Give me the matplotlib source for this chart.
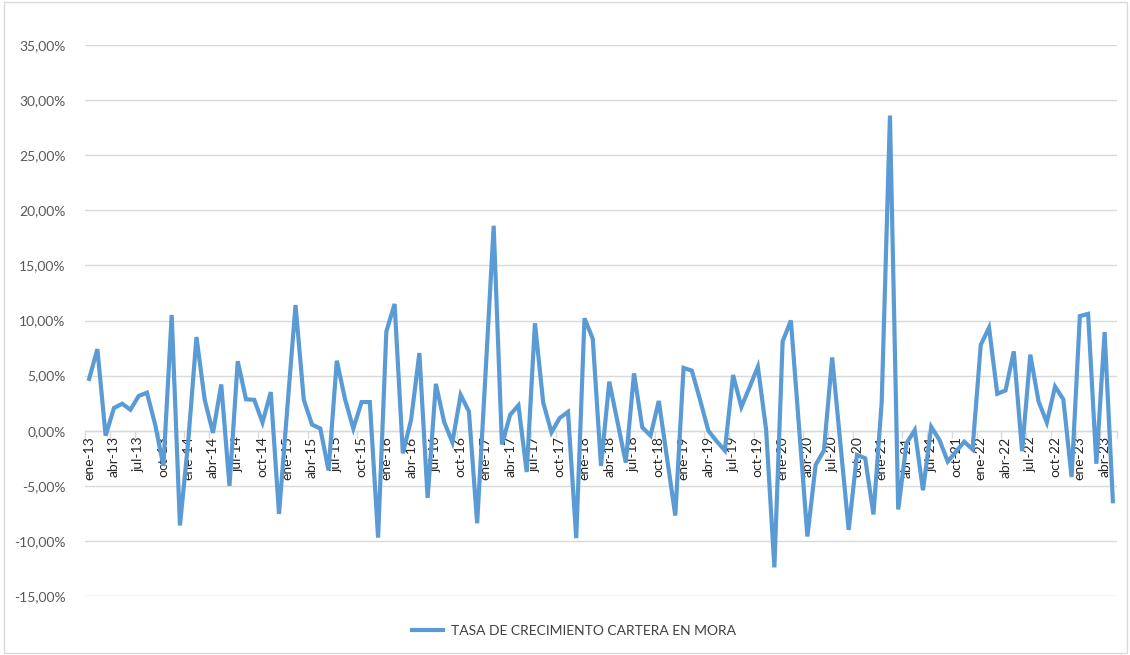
import matplotlib
matplotlib.use("Agg")
import matplotlib.pyplot as plt
from matplotlib.patches import Rectangle
from matplotlib.ticker import FixedLocator, FuncFormatter

# Monthly categories ene-13 .. may-23
month_abbr = ["ene", "feb", "mar", "abr", "may", "jun",
              "jul", "ago", "sep", "oct", "nov", "dic"]
first_year, last_year, last_month = 2013, 2023, 5
categories = [f"{m}-{str(y)[2:]}"
              for y in range(first_year, last_year + 1)
              for k, m in enumerate(month_abbr)
              if y < last_year or k < last_month]

# Monthly growth rate of non-performing portfolio (%)
tasa_crecimiento = [
    4.7, 7.4, -0.45, 2.05, 2.45, 1.9, 3.15, 3.45, 0.55, -3.2, 10.5, -8.6,
    -1.0, 8.5, 2.8, -0.2, 4.2, -5.0, 6.3, 2.85, 2.8, 0.75, 3.5, -7.55,
    2.0, 11.4, 2.8, 0.55, 0.2, -3.6, 6.35, 2.85, 0.2, 2.6, 2.6, -9.7,
    9.0, 11.5, -2.05, 1.0, 7.05, -6.1, 4.25, 0.8, -1.05, 3.25, 1.75, -8.4,
    5.0, 18.6, -1.25, 1.45, 2.3, -3.75, 9.75, 2.55, -0.15, 1.15, 1.7, -9.75,
    10.2, 8.35, -3.2, 4.45, 0.8, -2.9, 5.2, 0.3, -0.45, 2.7, -2.5, -7.7,
    5.7, 5.45, 2.8, 0.0, -0.95, -1.8, 5.05, 2.15, 3.95, 5.8, 0.1, -12.4,
    8.1, 10.0, 0.2, -9.6, -3.1, -1.8, 6.65, -1.2, -9.0, -2.2, -2.5, -7.6,
    2.6, 28.6, -7.15, -1.15, 0.05, -5.4, 0.35, -0.85, -2.8, -1.9, -1.0, -1.7,
    7.8, 9.35, 3.35, 3.65, 7.2, -1.85, 6.9, 2.65, 0.75, 4.0, 2.85, -4.2,
    10.4, 10.6, -3.0, 8.95, -6.4,
]
serie_nombre = "TASA DE CRECIMIENTO CARTERA EN MORA"
y_ticks = [-15, -10, -5, 0, 5, 10, 15, 20, 25, 30, 35]

plt.rcParams["font.family"] = ["Lato", "DejaVu Sans"]

fig = plt.figure(figsize=(11.3, 6.55), dpi=100)
ax = fig.add_axes([85 / 1130, 1 - 596 / 655, (1117 - 85) / 1130, (596 - 45) / 655])

grid_col = "#d9d9d9"

# Category axis crosses at 0 (set before tick styling, since it resets ticks)
for side in ("top", "right", "left"):
    ax.spines[side].set_visible(False)
ax.spines["bottom"].set_position(("data", 0))
ax.spines["bottom"].set_color(grid_col)
ax.spines["bottom"].set_linewidth(1.0)

x = list(range(len(categories)))
line, = ax.plot(x, tasa_crecimiento, color="#5b9bd5", linewidth=3.0,
                solid_joinstyle="miter", label=serie_nombre, zorder=3)

ax.set_xlim(-0.5, len(categories) - 0.5)
ax.set_ylim(y_ticks[0], y_ticks[-1])

ax.yaxis.set_major_locator(FixedLocator(y_ticks))
ax.yaxis.set_major_formatter(FuncFormatter(lambda v, p: f"{v:.2f}%".replace(".", ",")))
ax.grid(axis="y", color=grid_col, linewidth=1.0, zorder=0)
ax.tick_params(axis="y", length=0, pad=14, labelsize=10, labelcolor="#595959")

# Category labels every quarter, tick marks on category boundaries
label_pos = x[::3]
ax.xaxis.set_major_locator(FixedLocator(label_pos))
ax.xaxis.set_major_formatter(FuncFormatter(lambda v, p: categories[int(round(v))]))
ax.xaxis.set_minor_locator(FixedLocator([i - 0.5 for i in label_pos] + [len(categories) - 0.5]))
ax.tick_params(axis="x", which="major", length=0, pad=4, labelrotation=90,
               labelsize=10, labelcolor="#262626")
ax.tick_params(axis="x", which="minor", length=5, color=grid_col, width=1.0)

fig.legend(handles=[line], loc="center", bbox_to_anchor=(0.508, 1 - 631 / 655),
           frameon=False, fontsize=10, handlelength=2.2, handletextpad=0.6,
           labelcolor="#404040")

fig.patches.append(Rectangle((4 / 1130, 2 / 655), 1 - 7 / 1130, 1 - 4 / 655,
                             transform=fig.transFigure, fill=False,
                             edgecolor=grid_col, linewidth=1.0))

fig.savefig("out.png", dpi=100)
